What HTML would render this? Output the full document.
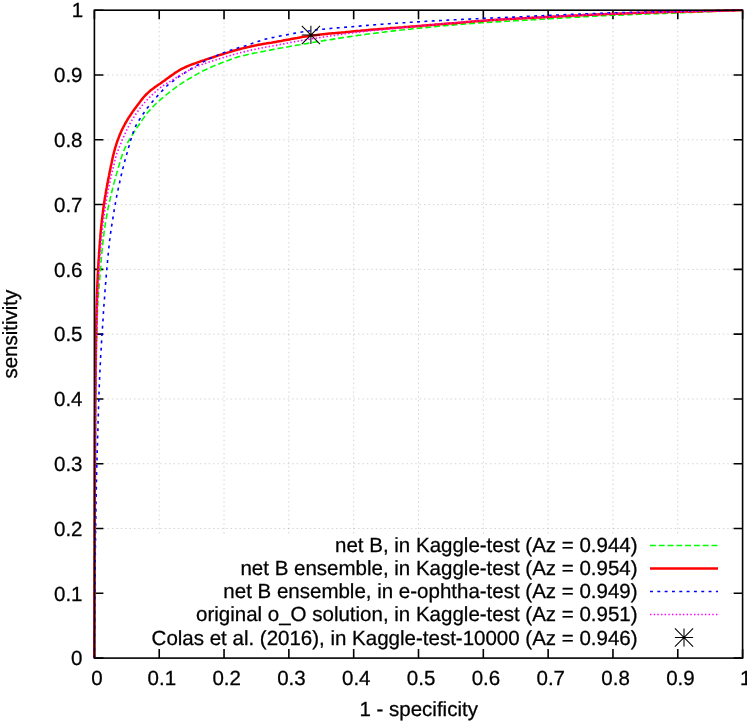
<!DOCTYPE html>
<html><head><meta charset="utf-8"><title>ROC</title>
<style>
html,body{margin:0;padding:0;background:#fff}
svg{display:block;will-change:transform}
text{font-family:"Liberation Sans",sans-serif;font-size:20.5px;fill:#000;text-rendering:geometricPrecision;stroke:#000;stroke-width:0.27px}
</style></head><body>
<svg width="747" height="721" viewBox="0 0 747 721">
<rect width="747" height="721" fill="#fff"/>

<g stroke="#000" stroke-opacity="0.22" stroke-width="0.8" stroke-dasharray="1.465 2.930" fill="none">
<path d="M159.22,533.5 V10.2"/>
<path d="M730.6,593.31 H742.6"/>
<path d="M224.04,533.5 V10.2"/>
<path d="M94.4,528.52 H742.6"/>
<path d="M288.86,533.5 V10.2"/>
<path d="M94.4,463.73 H742.6"/>
<path d="M353.68,533.5 V10.2"/>
<path d="M94.4,398.94 H742.6"/>
<path d="M418.50,533.5 V10.2"/>
<path d="M94.4,334.15 H742.6"/>
<path d="M483.32,533.5 V10.2"/>
<path d="M94.4,269.36 H742.6"/>
<path d="M548.14,533.5 V10.2"/>
<path d="M94.4,204.57 H742.6"/>
<path d="M612.96,533.5 V10.2"/>
<path d="M94.4,139.78 H742.6"/>
<path d="M677.78,533.5 V10.2"/>
<path d="M94.4,74.99 H742.6"/>
</g>
<g stroke="#000" stroke-width="1.6" fill="none">
<path d="M94.40,658.1 v-9 M94.40,10.2 v9 M94.4,658.10 h9 M742.6,658.10 h-9"/>
<path d="M159.22,658.1 v-9 M159.22,10.2 v9 M94.4,593.31 h9 M742.6,593.31 h-9"/>
<path d="M224.04,658.1 v-9 M224.04,10.2 v9 M94.4,528.52 h9 M742.6,528.52 h-9"/>
<path d="M288.86,658.1 v-9 M288.86,10.2 v9 M94.4,463.73 h9 M742.6,463.73 h-9"/>
<path d="M353.68,658.1 v-9 M353.68,10.2 v9 M94.4,398.94 h9 M742.6,398.94 h-9"/>
<path d="M418.50,658.1 v-9 M418.50,10.2 v9 M94.4,334.15 h9 M742.6,334.15 h-9"/>
<path d="M483.32,658.1 v-9 M483.32,10.2 v9 M94.4,269.36 h9 M742.6,269.36 h-9"/>
<path d="M548.14,658.1 v-9 M548.14,10.2 v9 M94.4,204.57 h9 M742.6,204.57 h-9"/>
<path d="M612.96,658.1 v-9 M612.96,10.2 v9 M94.4,139.78 h9 M742.6,139.78 h-9"/>
<path d="M677.78,658.1 v-9 M677.78,10.2 v9 M94.4,74.99 h9 M742.6,74.99 h-9"/>
<path d="M742.60,658.1 v-9 M742.60,10.2 v9 M94.4,10.20 h9 M742.6,10.20 h-9"/>
</g>
<path d="M94.4,658.1 L94.4,656.4 L94.4,654.8 L94.4,653.1 L94.4,651.4 L94.4,649.7 L94.4,648.0 L94.4,646.3 L94.4,644.6 L94.4,642.9 L94.4,641.2 L94.4,639.5 L94.5,637.8 L94.5,636.1 L94.5,634.4 L94.5,632.6 L94.5,630.9 L94.5,629.2 L94.5,627.4 L94.5,625.7 L94.5,624.0 L94.5,622.2 L94.5,620.5 L94.5,618.7 L94.5,616.9 L94.5,615.2 L94.5,613.4 L94.5,611.7 L94.5,609.9 L94.6,608.1 L94.6,606.3 L94.6,604.5 L94.6,602.8 L94.6,601.0 L94.6,599.2 L94.6,597.4 L94.6,595.6 L94.6,593.8 L94.6,592.0 L94.6,590.2 L94.6,588.3 L94.6,586.5 L94.6,584.7 L94.7,582.9 L94.7,581.1 L94.7,579.2 L94.7,577.4 L94.7,575.6 L94.7,573.7 L94.7,571.9 L94.7,570.0 L94.7,568.2 L94.7,566.3 L94.7,564.5 L94.7,562.6 L94.8,560.8 L94.8,558.9 L94.8,557.0 L94.8,555.2 L94.8,553.3 L94.8,551.4 L94.8,549.5 L94.8,547.7 L94.8,545.8 L94.8,543.9 L94.8,542.0 L94.9,540.1 L94.9,538.2 L94.9,536.3 L94.9,534.4 L94.9,532.5 L94.9,530.6 L94.9,528.7 L94.9,526.8 L94.9,524.9 L94.9,523.0 L95.0,521.1 L95.0,519.2 L95.0,517.2 L95.0,515.3 L95.0,513.4 L95.0,511.5 L95.0,509.5 L95.0,507.6 L95.0,505.6 L95.0,503.7 L95.1,501.7 L95.1,499.7 L95.1,497.7 L95.1,495.7 L95.1,493.7 L95.1,491.7 L95.1,489.7 L95.1,487.6 L95.1,485.6 L95.1,483.5 L95.2,481.5 L95.2,479.4 L95.2,477.4 L95.2,475.3 L95.2,473.3 L95.2,471.2 L95.2,469.1 L95.2,467.0 L95.3,464.9 L95.3,462.9 L95.3,460.8 L95.3,458.7 L95.3,456.6 L95.3,454.5 L95.3,452.4 L95.4,450.3 L95.4,448.3 L95.4,446.2 L95.4,444.1 L95.4,442.0 L95.4,439.9 L95.4,437.8 L95.5,435.8 L95.5,433.7 L95.5,431.6 L95.5,429.6 L95.5,427.5 L95.5,425.4 L95.6,423.4 L95.6,421.3 L95.6,419.3 L95.6,417.3 L95.6,415.2 L95.6,413.2 L95.7,411.2 L95.7,409.2 L95.7,407.2 L95.7,405.2 L95.7,403.2 L95.8,401.3 L95.8,399.3 L95.8,397.4 L95.8,395.5 L95.8,393.5 L95.9,391.6 L95.9,389.7 L95.9,387.8 L95.9,385.9 L96.0,384.1 L96.0,382.2 L96.0,380.3 L96.0,378.4 L96.1,376.5 L96.1,374.6 L96.1,372.7 L96.1,370.8 L96.2,368.9 L96.2,367.0 L96.2,365.0 L96.3,363.1 L96.3,361.1 L96.3,359.2 L96.4,357.2 L96.4,355.2 L96.4,353.2 L96.5,351.1 L96.5,349.1 L96.6,347.0 L96.6,344.9 L96.6,342.8 L96.7,340.6 L96.7,338.4 L96.8,336.1 L96.9,333.7 L96.9,331.4 L97.0,328.9 L97.1,326.5 L97.1,324.1 L97.2,321.6 L97.3,319.2 L97.4,316.8 L97.4,314.5 L97.5,312.2 L97.6,310.0 L97.7,307.9 L97.8,305.9 L97.9,304.0 L98.0,302.2 L98.1,300.6 L98.2,299.0 L98.3,297.4 L98.4,295.9 L98.5,294.2 L98.6,292.5 L98.8,290.7 L98.9,288.7 L99.1,286.5 L99.3,283.9 L99.6,280.4 L99.9,276.7 L100.2,273.5 L100.4,271.2 L100.5,269.2 L100.7,267.4 L100.8,265.7 L100.9,264.2 L101.0,262.7 L101.1,261.1 L101.2,259.5 L101.4,257.7 L101.5,255.9 L101.7,254.0 L101.9,252.1 L102.1,250.2 L102.3,248.3 L102.5,246.3 L102.7,244.4 L102.9,242.4 L103.1,240.4 L103.3,238.4 L103.6,236.3 L103.8,234.3 L104.1,232.2 L104.4,230.1 L104.7,228.1 L105.0,226.1 L105.3,224.2 L105.5,222.3 L105.8,220.5 L106.2,218.6 L106.5,216.8 L106.8,215.0 L107.1,213.2 L107.5,211.4 L107.8,209.6 L108.2,207.7 L108.6,205.8 L109.0,203.9 L109.4,202.0 L109.9,200.0 L110.3,198.1 L110.8,196.1 L111.2,194.1 L111.7,192.2 L112.2,190.3 L112.6,188.4 L113.1,186.4 L113.6,184.4 L114.2,182.5 L114.7,180.6 L115.2,178.7 L115.7,176.8 L116.2,175.1 L116.7,173.4 L117.1,171.9 L117.5,170.6 L117.8,169.4 L118.2,168.1 L118.6,166.7 L119.1,165.2 L119.6,163.4 L120.3,161.3 L121.2,158.0 L122.5,154.0 L123.3,151.9 L124.0,150.2 L124.7,148.7 L125.5,147.0 L126.3,145.4 L127.1,143.7 L127.9,142.1 L128.8,140.5 L129.8,138.9 L130.8,137.2 L131.9,135.6 L132.9,133.9 L134.0,132.3 L135.1,130.5 L136.3,128.8 L137.4,127.1 L138.5,125.5 L139.5,124.0 L140.4,122.5 L141.4,121.1 L142.4,119.6 L143.5,118.1 L144.6,116.5 L145.7,115.0 L147.0,113.3 L148.6,111.5 L150.2,109.7 L151.6,108.1 L153.0,106.7 L154.4,105.3 L155.7,104.0 L157.0,102.8 L158.3,101.6 L159.6,100.3 L161.0,99.1 L162.6,97.8 L164.2,96.5 L165.8,95.2 L167.3,94.0 L168.7,92.9 L170.0,91.8 L171.3,90.8 L172.6,89.8 L174.2,88.6 L176.1,87.2 L178.3,85.6 L180.4,84.2 L182.0,83.1 L183.5,82.2 L184.8,81.3 L186.2,80.5 L187.6,79.6 L189.1,78.7 L190.9,77.7 L192.6,76.6 L194.5,75.6 L196.2,74.6 L198.0,73.6 L199.7,72.6 L201.5,71.7 L203.2,70.8 L204.9,70.0 L206.6,69.2 L208.4,68.4 L210.1,67.6 L211.9,66.8 L213.7,66.1 L215.6,65.3 L217.6,64.5 L219.5,63.8 L221.3,63.0 L223.1,62.3 L224.8,61.7 L226.5,61.0 L228.2,60.4 L230.0,59.7 L231.9,59.0 L233.8,58.4 L235.7,57.7 L237.5,57.1 L239.4,56.6 L241.3,56.1 L243.2,55.6 L245.1,55.2 L247.0,54.7 L249.0,54.3 L251.0,53.8 L252.9,53.4 L254.8,53.0 L256.5,52.7 L258.2,52.3 L259.9,52.0 L261.9,51.6 L264.2,51.2 L267.0,50.6 L269.9,50.1 L272.4,49.6 L274.4,49.2 L276.2,48.9 L277.8,48.6 L279.4,48.3 L280.9,48.0 L282.3,47.8 L283.8,47.5 L285.3,47.3 L286.9,47.0 L288.6,46.7 L290.4,46.3 L292.1,46.0 L294.0,45.7 L295.8,45.4 L297.8,45.0 L299.8,44.7 L301.8,44.3 L303.9,44.0 L306.3,43.6 L308.8,43.1 L311.5,42.7 L314.2,42.2 L316.7,41.8 L319.1,41.4 L321.2,41.1 L323.2,40.7 L325.0,40.4 L326.8,40.2 L328.5,39.9 L330.2,39.6 L331.8,39.4 L333.3,39.1 L334.9,38.9 L336.4,38.6 L338.0,38.4 L339.6,38.1 L341.2,37.9 L342.8,37.6 L344.5,37.4 L346.3,37.1 L348.0,36.9 L349.8,36.6 L351.5,36.4 L353.3,36.1 L355.1,35.8 L356.8,35.6 L358.7,35.3 L360.5,35.1 L362.4,34.8 L364.3,34.6 L366.3,34.3 L368.3,34.0 L370.4,33.7 L372.6,33.5 L374.9,33.2 L377.3,32.9 L379.6,32.6 L381.9,32.3 L384.1,32.1 L386.1,31.8 L388.1,31.6 L390.0,31.3 L391.9,31.1 L393.8,30.9 L395.6,30.7 L397.5,30.5 L399.4,30.2 L401.4,30.0 L403.5,29.8 L405.7,29.5 L407.9,29.3 L410.2,29.1 L412.5,28.8 L414.8,28.6 L417.0,28.4 L419.2,28.2 L421.3,27.9 L423.3,27.8 L425.3,27.6 L427.3,27.4 L429.2,27.2 L431.1,27.0 L433.0,26.8 L434.8,26.7 L436.7,26.5 L438.5,26.3 L440.3,26.2 L442.1,26.0 L443.9,25.8 L445.6,25.7 L447.4,25.5 L449.2,25.4 L450.9,25.2 L452.6,25.1 L454.2,24.9 L455.8,24.8 L457.3,24.7 L458.8,24.5 L460.3,24.4 L461.9,24.3 L463.4,24.2 L464.9,24.0 L466.5,23.9 L468.1,23.8 L469.8,23.6 L471.5,23.5 L473.3,23.4 L475.2,23.2 L477.2,23.1 L479.3,22.9 L481.6,22.8 L484.2,22.6 L487.1,22.4 L490.2,22.2 L493.2,22.1 L496.3,21.9 L499.1,21.7 L501.7,21.6 L504.0,21.4 L506.0,21.3 L507.9,21.2 L509.8,21.1 L511.5,21.0 L513.2,20.9 L514.8,20.8 L516.3,20.7 L517.8,20.6 L519.3,20.6 L520.8,20.5 L522.4,20.4 L523.9,20.3 L525.5,20.2 L527.1,20.1 L528.8,20.0 L530.6,19.9 L532.4,19.8 L534.4,19.7 L536.5,19.6 L538.7,19.4 L540.9,19.3 L543.1,19.2 L545.4,19.0 L547.7,18.9 L550.0,18.8 L552.3,18.6 L554.5,18.5 L556.7,18.4 L558.8,18.2 L560.8,18.1 L562.7,18.0 L564.5,17.9 L566.3,17.8 L568.0,17.7 L569.6,17.6 L571.2,17.5 L572.8,17.4 L574.4,17.3 L575.9,17.2 L577.5,17.2 L579.1,17.1 L580.6,17.0 L582.2,16.9 L583.8,16.8 L585.5,16.7 L587.2,16.6 L589.0,16.5 L590.8,16.4 L592.6,16.3 L594.4,16.2 L596.2,16.1 L598.0,16.0 L599.9,15.9 L601.9,15.8 L604.1,15.7 L606.5,15.6 L609.3,15.4 L612.8,15.3 L617.9,15.1 L623.4,14.9 L627.9,14.7 L630.8,14.6 L633.5,14.5 L636.1,14.4 L638.5,14.3 L640.7,14.3 L642.9,14.2 L644.9,14.1 L646.8,14.0 L648.6,14.0 L650.3,13.9 L652.0,13.9 L653.6,13.8 L655.1,13.7 L656.6,13.7 L658.0,13.6 L659.5,13.6 L660.9,13.5 L662.3,13.5 L663.7,13.4 L665.2,13.4 L666.7,13.3 L668.2,13.3 L669.7,13.2 L671.4,13.1 L673.1,13.1 L674.9,13.0 L676.7,12.9 L678.5,12.9 L680.3,12.8 L682.1,12.7 L683.9,12.7 L685.8,12.6 L687.6,12.5 L689.4,12.4 L691.2,12.4 L693.0,12.3 L694.9,12.2 L696.7,12.1 L698.5,12.1 L700.3,12.0 L702.2,11.9 L704.0,11.8 L705.8,11.8 L707.6,11.7 L709.5,11.6 L711.3,11.5 L713.1,11.5 L715.0,11.4 L716.8,11.3 L718.6,11.2 L720.5,11.2 L722.3,11.1 L724.2,11.0 L726.0,10.9 L727.8,10.8 L729.7,10.8 L731.5,10.7 L733.4,10.6 L735.2,10.5 L737.1,10.4 L738.9,10.4 L740.7,10.3 L742.6,10.2" fill="none" stroke="#00ff00" stroke-width="1.6" stroke-dasharray="5.860 2.930"/>
<path d="M94.4,658.1 L94.4,656.4 L94.4,654.7 L94.4,652.9 L94.4,651.2 L94.4,649.5 L94.4,647.7 L94.4,646.0 L94.4,644.3 L94.4,642.5 L94.4,640.8 L94.4,639.0 L94.4,637.3 L94.4,635.5 L94.4,633.7 L94.4,632.0 L94.5,630.2 L94.5,628.4 L94.5,626.7 L94.5,624.9 L94.5,623.1 L94.5,621.3 L94.5,619.5 L94.5,617.8 L94.5,616.0 L94.5,614.2 L94.5,612.4 L94.5,610.6 L94.5,608.8 L94.5,607.0 L94.5,605.2 L94.5,603.3 L94.5,601.5 L94.5,599.7 L94.5,597.9 L94.5,596.1 L94.5,594.2 L94.5,592.4 L94.5,590.6 L94.6,588.8 L94.6,586.9 L94.6,585.1 L94.6,583.2 L94.6,581.4 L94.6,579.6 L94.6,577.7 L94.6,575.8 L94.6,574.0 L94.6,572.1 L94.6,570.3 L94.6,568.4 L94.6,566.6 L94.6,564.7 L94.6,562.8 L94.6,560.9 L94.6,559.1 L94.6,557.2 L94.6,555.3 L94.7,553.4 L94.7,551.5 L94.7,549.7 L94.7,547.8 L94.7,545.9 L94.7,544.0 L94.7,542.1 L94.7,540.2 L94.7,538.3 L94.7,536.4 L94.7,534.5 L94.7,532.6 L94.7,530.7 L94.7,528.8 L94.7,526.9 L94.7,524.9 L94.7,523.0 L94.8,521.1 L94.8,519.2 L94.8,517.3 L94.8,515.3 L94.8,513.4 L94.8,511.5 L94.8,509.5 L94.8,507.6 L94.8,505.7 L94.8,503.7 L94.8,501.8 L94.8,499.8 L94.8,497.9 L94.8,495.9 L94.8,494.0 L94.8,492.0 L94.8,490.0 L94.9,488.0 L94.9,486.1 L94.9,484.1 L94.9,482.1 L94.9,480.1 L94.9,478.1 L94.9,476.1 L94.9,474.1 L94.9,472.1 L94.9,470.1 L94.9,468.1 L94.9,466.1 L94.9,464.1 L94.9,462.1 L94.9,460.0 L95.0,458.0 L95.0,456.0 L95.0,453.9 L95.0,451.9 L95.0,449.9 L95.0,447.8 L95.0,445.8 L95.0,443.7 L95.0,441.7 L95.0,439.6 L95.0,437.5 L95.0,435.5 L95.1,433.4 L95.1,431.3 L95.1,429.3 L95.1,427.2 L95.1,425.1 L95.1,423.0 L95.1,420.9 L95.1,418.8 L95.1,416.7 L95.2,414.6 L95.2,412.5 L95.2,410.4 L95.2,408.3 L95.2,406.2 L95.2,404.0 L95.2,401.9 L95.2,399.7 L95.3,397.6 L95.3,395.4 L95.3,393.2 L95.3,391.0 L95.3,388.8 L95.4,386.6 L95.4,384.4 L95.4,382.2 L95.4,380.0 L95.4,377.8 L95.5,375.6 L95.5,373.3 L95.5,371.1 L95.5,368.9 L95.6,366.7 L95.6,364.5 L95.6,362.3 L95.7,360.1 L95.7,357.9 L95.7,355.7 L95.7,353.6 L95.8,351.4 L95.8,349.2 L95.8,347.1 L95.9,344.9 L95.9,342.7 L95.9,340.6 L96.0,338.4 L96.0,336.2 L96.0,334.1 L96.1,331.9 L96.1,329.8 L96.2,327.6 L96.2,325.5 L96.3,323.4 L96.3,321.3 L96.3,319.2 L96.4,317.2 L96.4,315.1 L96.5,313.1 L96.5,311.1 L96.6,309.2 L96.6,307.3 L96.7,305.4 L96.7,303.6 L96.8,301.7 L96.9,299.8 L96.9,298.0 L97.0,296.1 L97.0,294.2 L97.1,292.3 L97.2,290.3 L97.2,288.3 L97.3,286.2 L97.4,284.0 L97.5,281.8 L97.6,279.5 L97.7,277.1 L97.8,274.8 L98.0,272.5 L98.1,270.2 L98.2,268.1 L98.3,266.0 L98.4,264.0 L98.5,262.1 L98.6,260.3 L98.8,258.5 L98.9,256.7 L99.0,255.0 L99.1,253.2 L99.2,251.4 L99.4,249.6 L99.5,247.7 L99.6,245.8 L99.8,243.7 L99.9,241.7 L100.1,239.6 L100.3,237.4 L100.4,235.3 L100.6,233.2 L100.8,231.1 L101.0,229.1 L101.2,227.1 L101.4,225.1 L101.6,223.2 L101.8,221.2 L102.0,219.2 L102.3,217.3 L102.5,215.3 L102.8,213.2 L103.0,211.2 L103.3,209.1 L103.6,207.0 L103.9,204.9 L104.2,202.8 L104.5,200.7 L104.8,198.7 L105.1,196.8 L105.5,194.8 L105.8,192.9 L106.1,191.0 L106.4,189.1 L106.8,187.3 L107.1,185.4 L107.5,183.6 L107.8,181.8 L108.1,180.1 L108.5,178.4 L108.8,176.8 L109.1,175.3 L109.3,173.9 L109.6,172.4 L110.0,170.9 L110.3,169.3 L110.6,167.6 L111.0,165.6 L111.5,163.5 L112.1,160.6 L112.8,157.1 L113.6,154.0 L114.1,151.9 L114.6,150.2 L115.0,148.6 L115.4,147.2 L115.9,145.7 L116.4,144.0 L117.0,142.1 L117.7,140.2 L118.5,138.2 L119.2,136.2 L120.0,134.3 L120.8,132.5 L121.6,130.6 L122.5,128.8 L123.4,127.0 L124.3,125.3 L125.2,123.5 L126.2,121.8 L127.2,120.1 L128.2,118.4 L129.3,116.8 L130.4,115.1 L131.5,113.5 L132.6,111.9 L133.7,110.3 L134.8,108.8 L136.0,107.2 L137.2,105.6 L138.4,104.0 L139.6,102.4 L140.8,100.7 L142.1,99.1 L143.4,97.5 L144.7,96.0 L146.2,94.5 L147.6,93.1 L149.0,91.8 L150.4,90.5 L151.8,89.4 L153.2,88.4 L154.5,87.4 L155.9,86.5 L157.3,85.5 L158.8,84.5 L160.3,83.5 L161.8,82.4 L163.4,81.3 L165.2,80.1 L167.2,78.6 L169.4,76.9 L171.3,75.6 L172.9,74.5 L174.2,73.5 L175.5,72.6 L177.0,71.7 L178.7,70.7 L180.4,69.7 L182.2,68.7 L184.0,67.8 L185.8,67.0 L187.6,66.2 L189.5,65.4 L191.3,64.7 L193.2,64.0 L195.1,63.3 L197.0,62.6 L198.8,62.0 L200.7,61.3 L202.5,60.7 L204.4,60.1 L206.3,59.4 L208.3,58.8 L210.3,58.1 L212.3,57.5 L214.4,56.8 L216.5,56.1 L218.6,55.4 L220.6,54.8 L222.5,54.2 L224.2,53.6 L226.0,53.1 L227.6,52.6 L229.3,52.1 L231.0,51.5 L232.7,51.0 L234.5,50.5 L236.4,50.0 L238.3,49.5 L240.3,49.0 L242.3,48.4 L244.2,48.0 L246.1,47.5 L248.0,47.1 L249.8,46.7 L251.5,46.3 L253.1,45.9 L254.8,45.6 L256.5,45.2 L258.4,44.8 L260.5,44.4 L262.9,44.0 L265.8,43.6 L268.7,43.1 L271.4,42.7 L273.6,42.3 L275.6,41.9 L277.5,41.6 L279.3,41.3 L281.1,41.0 L282.8,40.6 L284.4,40.3 L286.1,40.0 L287.7,39.7 L289.4,39.4 L291.1,39.1 L292.7,38.8 L294.2,38.5 L295.6,38.2 L297.1,38.0 L298.6,37.7 L300.1,37.4 L301.8,37.1 L303.5,36.8 L305.5,36.5 L307.6,36.2 L310.1,35.8 L313.4,35.4 L317.1,34.9 L320.5,34.5 L323.3,34.2 L325.4,34.0 L327.4,33.8 L329.2,33.6 L330.9,33.5 L332.5,33.3 L333.9,33.2 L335.4,33.1 L336.8,32.9 L338.2,32.8 L339.7,32.7 L341.2,32.6 L342.9,32.4 L344.6,32.3 L346.5,32.1 L348.3,31.9 L350.3,31.7 L352.2,31.5 L354.2,31.3 L356.2,31.1 L358.2,30.9 L360.2,30.8 L362.3,30.6 L364.4,30.4 L366.6,30.2 L368.8,30.0 L371.1,29.8 L373.5,29.6 L375.8,29.4 L378.0,29.2 L380.1,29.0 L382.2,28.9 L384.1,28.7 L386.0,28.6 L387.8,28.4 L389.5,28.3 L391.3,28.1 L393.1,28.0 L394.9,27.9 L396.7,27.7 L398.6,27.6 L400.6,27.4 L402.7,27.3 L404.9,27.1 L407.2,26.9 L409.5,26.7 L411.8,26.5 L414.1,26.4 L416.2,26.2 L418.3,26.0 L420.2,25.9 L421.9,25.7 L423.5,25.6 L424.9,25.5 L426.1,25.4 L427.4,25.3 L428.6,25.2 L429.8,25.1 L431.1,25.0 L432.6,24.9 L434.1,24.8 L435.9,24.6 L437.9,24.5 L440.2,24.3 L443.3,24.0 L448.2,23.6 L453.4,23.2 L457.0,22.9 L459.4,22.7 L461.4,22.5 L463.1,22.4 L464.7,22.2 L466.1,22.1 L467.3,22.0 L468.5,21.9 L469.6,21.8 L470.7,21.7 L471.8,21.6 L472.9,21.5 L474.2,21.4 L475.5,21.3 L477.1,21.2 L478.8,21.1 L480.8,20.9 L483.3,20.7 L486.4,20.5 L489.7,20.3 L493.2,20.1 L496.8,19.8 L500.1,19.6 L503.2,19.4 L505.7,19.2 L507.8,19.1 L509.6,19.0 L511.3,18.9 L512.8,18.8 L514.2,18.8 L515.6,18.7 L516.8,18.6 L517.9,18.5 L519.0,18.5 L520.0,18.4 L521.1,18.4 L522.1,18.3 L523.1,18.3 L524.1,18.2 L525.2,18.2 L526.3,18.1 L527.5,18.0 L528.8,18.0 L530.2,17.9 L531.8,17.8 L533.4,17.7 L535.2,17.6 L537.2,17.5 L539.4,17.4 L542.0,17.3 L546.0,17.0 L551.1,16.8 L556.7,16.5 L562.0,16.2 L566.3,16.0 L569.0,15.8 L571.1,15.7 L573.0,15.6 L574.7,15.6 L576.2,15.5 L577.5,15.4 L578.7,15.4 L579.7,15.3 L580.7,15.3 L581.6,15.2 L582.4,15.2 L583.1,15.1 L583.9,15.1 L584.6,15.1 L585.4,15.0 L586.2,15.0 L587.0,15.0 L587.9,14.9 L588.9,14.9 L590.1,14.8 L591.3,14.8 L592.7,14.7 L594.3,14.6 L596.1,14.5 L598.1,14.4 L600.4,14.3 L602.9,14.2 L607.2,14.0 L615.4,13.7 L624.2,13.4 L630.1,13.2 L633.2,13.1 L636.1,13.0 L638.8,12.9 L641.3,12.8 L643.7,12.7 L645.9,12.7 L647.9,12.6 L649.9,12.6 L651.6,12.5 L653.3,12.5 L654.9,12.4 L656.3,12.4 L657.7,12.3 L659.1,12.3 L660.3,12.3 L661.6,12.2 L662.8,12.2 L663.9,12.2 L665.1,12.1 L666.3,12.1 L667.4,12.1 L668.7,12.0 L669.9,12.0 L671.2,12.0 L672.5,11.9 L674.0,11.9 L675.5,11.9 L677.1,11.8 L678.8,11.8 L680.6,11.7 L682.4,11.7 L684.2,11.6 L686.1,11.6 L687.9,11.5 L689.7,11.5 L691.6,11.4 L693.4,11.4 L695.3,11.4 L697.2,11.3 L699.1,11.3 L701.0,11.2 L702.9,11.2 L704.8,11.1 L706.7,11.1 L708.6,11.0 L710.6,11.0 L712.5,10.9 L714.4,10.9 L716.4,10.8 L718.4,10.8 L720.3,10.7 L722.3,10.7 L724.3,10.6 L726.3,10.6 L728.3,10.5 L730.3,10.5 L732.4,10.4 L734.4,10.4 L736.4,10.3 L738.5,10.3 L740.5,10.2 L742.6,10.2" fill="none" stroke="#ff0000" stroke-width="2.5" stroke-linejoin="round"/>
<path d="M94.4,658.1 L94.4,655.9 L94.4,653.7 L94.4,651.4 L94.5,649.2 L94.5,647.1 L94.5,644.9 L94.5,642.7 L94.5,640.5 L94.5,638.4 L94.6,636.3 L94.6,634.1 L94.6,632.0 L94.6,629.9 L94.6,627.8 L94.6,625.8 L94.7,623.7 L94.7,621.6 L94.7,619.6 L94.7,617.6 L94.7,615.6 L94.7,613.6 L94.8,611.6 L94.8,609.6 L94.8,607.7 L94.8,605.7 L94.8,603.8 L94.8,601.9 L94.9,600.0 L94.9,598.1 L94.9,596.3 L94.9,594.5 L94.9,592.7 L94.9,590.9 L95.0,589.2 L95.0,587.5 L95.0,585.8 L95.0,584.1 L95.0,582.5 L95.0,580.9 L95.0,579.2 L95.1,577.7 L95.1,576.1 L95.1,574.5 L95.1,572.9 L95.1,571.4 L95.1,569.8 L95.2,568.3 L95.2,566.7 L95.2,565.2 L95.2,563.6 L95.2,562.0 L95.2,560.5 L95.3,558.9 L95.3,557.3 L95.3,555.6 L95.3,554.0 L95.3,552.3 L95.4,550.7 L95.4,549.0 L95.4,547.2 L95.4,545.5 L95.4,543.7 L95.5,541.9 L95.5,540.0 L95.5,538.1 L95.5,536.2 L95.6,534.2 L95.6,532.2 L95.6,530.0 L95.6,527.8 L95.7,525.6 L95.7,523.3 L95.7,520.9 L95.8,518.5 L95.8,516.1 L95.9,513.6 L95.9,511.2 L95.9,508.7 L96.0,506.3 L96.0,503.9 L96.1,501.5 L96.1,499.2 L96.1,496.9 L96.2,494.6 L96.2,492.4 L96.3,490.3 L96.3,488.2 L96.3,486.1 L96.4,484.0 L96.4,482.0 L96.5,479.9 L96.5,477.9 L96.6,475.9 L96.6,473.9 L96.7,471.9 L96.7,469.9 L96.8,467.9 L96.8,465.8 L96.9,463.8 L96.9,461.8 L97.0,459.7 L97.0,457.7 L97.1,455.6 L97.1,453.5 L97.2,451.5 L97.3,449.4 L97.3,447.3 L97.4,445.3 L97.5,443.3 L97.5,441.2 L97.6,439.3 L97.6,437.3 L97.7,435.3 L97.8,433.4 L97.8,431.6 L97.9,429.8 L97.9,428.0 L98.0,426.2 L98.0,424.5 L98.1,422.9 L98.1,421.2 L98.2,419.5 L98.2,417.9 L98.3,416.2 L98.3,414.5 L98.4,412.8 L98.4,411.1 L98.5,409.4 L98.5,407.6 L98.6,405.7 L98.6,403.8 L98.7,401.9 L98.8,399.8 L98.8,397.7 L98.9,395.6 L99.0,393.3 L99.1,391.1 L99.2,388.8 L99.3,386.6 L99.3,384.4 L99.4,382.2 L99.5,380.1 L99.6,378.0 L99.7,376.0 L99.8,373.9 L99.9,371.9 L100.0,369.9 L100.1,367.9 L100.2,365.9 L100.3,363.8 L100.4,361.8 L100.5,359.8 L100.6,357.7 L100.7,355.7 L100.8,353.6 L101.0,351.6 L101.1,349.5 L101.2,347.5 L101.3,345.5 L101.4,343.4 L101.6,341.4 L101.7,339.4 L101.8,337.4 L101.9,335.4 L102.1,333.4 L102.2,331.4 L102.3,329.4 L102.5,327.5 L102.6,325.6 L102.7,323.7 L102.8,321.9 L103.0,320.1 L103.1,318.3 L103.2,316.6 L103.3,314.8 L103.4,313.1 L103.5,311.3 L103.7,309.6 L103.8,307.8 L103.9,306.0 L104.0,304.2 L104.2,302.3 L104.3,300.4 L104.5,298.5 L104.6,296.6 L104.7,294.6 L104.9,292.7 L105.0,290.7 L105.2,288.7 L105.3,286.7 L105.5,284.6 L105.7,282.6 L105.8,280.5 L106.0,278.3 L106.2,276.1 L106.4,274.0 L106.6,271.8 L106.8,269.7 L107.0,267.7 L107.1,265.7 L107.3,263.8 L107.5,261.9 L107.6,260.0 L107.8,258.1 L108.0,256.2 L108.2,254.3 L108.3,252.3 L108.5,250.3 L108.8,248.3 L109.0,246.3 L109.2,244.4 L109.4,242.4 L109.6,240.5 L109.9,238.7 L110.1,237.0 L110.3,235.4 L110.5,233.7 L110.8,232.0 L111.0,230.3 L111.3,228.3 L111.6,226.2 L112.1,223.6 L112.5,220.8 L112.9,218.3 L113.3,216.2 L113.6,214.3 L113.9,212.5 L114.1,210.7 L114.4,209.0 L114.7,207.2 L115.0,205.4 L115.3,203.6 L115.7,201.8 L116.0,199.9 L116.3,198.1 L116.7,196.2 L117.1,194.3 L117.5,192.4 L117.9,190.4 L118.3,188.3 L118.8,186.3 L119.2,184.3 L119.7,182.3 L120.1,180.3 L120.6,178.3 L121.0,176.3 L121.5,174.3 L121.9,172.4 L122.4,170.5 L122.8,168.7 L123.3,166.9 L123.7,165.3 L124.1,163.8 L124.5,162.3 L124.9,160.7 L125.3,159.2 L125.8,157.5 L126.3,155.7 L126.9,153.6 L127.5,151.2 L128.2,148.8 L128.9,146.5 L129.5,144.5 L130.0,142.6 L130.5,140.8 L131.1,138.9 L131.7,137.0 L132.2,135.1 L132.9,133.3 L133.5,131.4 L134.2,129.6 L135.0,127.8 L135.7,126.1 L136.6,124.3 L137.6,122.6 L138.6,120.9 L139.7,119.2 L140.7,117.6 L141.8,115.9 L142.9,114.3 L144.0,112.7 L145.1,111.1 L146.2,109.5 L147.3,107.9 L148.5,106.4 L149.8,104.8 L151.1,103.3 L152.4,101.8 L153.7,100.3 L154.9,98.9 L156.2,97.4 L157.5,95.9 L158.8,94.5 L160.2,93.0 L161.5,91.5 L162.8,90.1 L164.1,88.7 L165.4,87.4 L166.8,86.0 L168.3,84.7 L169.9,83.5 L171.5,82.2 L173.1,81.0 L174.6,79.8 L176.2,78.6 L177.7,77.5 L179.3,76.4 L180.9,75.3 L182.6,74.2 L184.3,73.2 L185.9,72.1 L187.6,71.1 L189.2,70.1 L190.9,69.0 L192.5,68.0 L194.2,67.0 L196.0,65.9 L197.7,65.0 L199.4,64.0 L201.1,63.1 L202.8,62.1 L204.5,61.2 L206.3,60.3 L208.0,59.4 L209.8,58.6 L211.5,57.7 L213.3,57.0 L215.0,56.2 L216.8,55.5 L218.7,54.7 L220.6,54.0 L222.5,53.2 L224.4,52.5 L226.2,51.8 L228.0,51.1 L229.8,50.5 L231.6,49.9 L233.4,49.3 L235.3,48.7 L237.2,48.2 L239.0,47.6 L240.9,47.0 L242.8,46.5 L244.7,46.0 L246.5,45.4 L248.4,44.8 L250.2,44.1 L252.1,43.5 L254.0,42.9 L255.9,42.3 L257.8,41.6 L259.6,41.0 L261.4,40.4 L263.1,39.8 L265.0,39.2 L267.1,38.7 L269.5,38.1 L272.0,37.6 L274.3,37.2 L276.2,36.8 L278.0,36.4 L279.7,36.1 L281.4,35.8 L283.0,35.5 L284.7,35.2 L286.4,34.9 L288.2,34.5 L290.1,34.2 L292.0,33.8 L294.0,33.4 L296.0,33.0 L298.0,32.7 L299.9,32.3 L301.8,32.0 L303.5,31.8 L305.1,31.5 L306.7,31.3 L308.2,31.0 L309.9,30.8 L311.7,30.5 L313.7,30.3 L316.0,30.0 L319.3,29.6 L322.9,29.2 L326.0,28.9 L328.2,28.7 L330.3,28.5 L332.2,28.3 L333.9,28.2 L335.5,28.0 L337.1,27.9 L338.6,27.8 L340.1,27.7 L341.6,27.5 L343.2,27.4 L344.9,27.3 L346.7,27.1 L348.4,27.0 L350.2,26.8 L352.0,26.7 L353.9,26.5 L355.7,26.4 L357.5,26.2 L359.4,26.1 L361.3,25.9 L363.2,25.7 L365.1,25.6 L367.1,25.4 L369.2,25.3 L371.3,25.1 L373.4,24.9 L375.6,24.7 L377.7,24.6 L379.9,24.4 L382.0,24.2 L384.0,24.1 L386.0,23.9 L387.9,23.8 L389.7,23.7 L391.4,23.5 L393.2,23.4 L394.9,23.3 L396.7,23.2 L398.5,23.0 L400.4,22.9 L402.4,22.8 L404.6,22.7 L407.0,22.5 L409.5,22.3 L412.1,22.2 L414.8,22.0 L417.4,21.9 L419.8,21.7 L422.0,21.6 L424.1,21.5 L426.1,21.3 L428.1,21.2 L430.1,21.1 L431.9,21.0 L433.8,20.9 L435.6,20.8 L437.4,20.7 L439.2,20.6 L440.9,20.5 L442.6,20.4 L444.4,20.3 L446.1,20.2 L447.9,20.1 L449.6,20.0 L451.3,19.9 L453.0,19.8 L454.7,19.8 L456.3,19.7 L457.9,19.6 L459.4,19.5 L461.0,19.5 L462.6,19.4 L464.2,19.3 L465.7,19.2 L467.4,19.2 L469.0,19.1 L470.7,19.0 L472.4,18.9 L474.1,18.9 L475.9,18.8 L477.8,18.7 L479.7,18.6 L481.7,18.5 L483.6,18.4 L485.6,18.3 L487.7,18.2 L489.9,18.1 L492.4,18.0 L495.0,17.9 L497.9,17.7 L502.0,17.6 L506.6,17.4 L510.6,17.2 L513.2,17.1 L515.3,17.0 L517.2,16.9 L518.9,16.8 L520.5,16.7 L521.9,16.7 L523.2,16.6 L524.4,16.5 L525.5,16.5 L526.6,16.4 L527.7,16.4 L528.7,16.3 L529.8,16.3 L531.0,16.2 L532.2,16.1 L533.5,16.1 L534.9,16.0 L536.5,15.9 L538.3,15.9 L540.1,15.8 L542.0,15.7 L544.1,15.6 L546.3,15.5 L548.6,15.4 L551.2,15.3 L554.0,15.1 L557.3,15.0 L562.0,14.8 L567.1,14.6 L571.2,14.4 L573.6,14.3 L575.7,14.2 L577.6,14.2 L579.3,14.1 L580.8,14.0 L582.1,14.0 L583.4,13.9 L584.5,13.9 L585.6,13.8 L586.5,13.8 L587.5,13.8 L588.4,13.7 L589.3,13.7 L590.3,13.6 L591.3,13.6 L592.4,13.6 L593.5,13.5 L594.8,13.5 L596.2,13.4 L597.7,13.4 L599.5,13.3 L601.4,13.2 L603.6,13.1 L606.7,13.0 L610.4,12.9 L614.6,12.8 L618.9,12.7 L623.1,12.6 L626.9,12.5 L630.1,12.4 L632.7,12.3 L635.1,12.3 L637.4,12.2 L639.6,12.2 L641.8,12.1 L643.8,12.1 L645.8,12.0 L647.7,12.0 L649.5,11.9 L651.3,11.9 L653.0,11.9 L654.6,11.8 L656.3,11.8 L657.9,11.8 L659.4,11.7 L661.0,11.7 L662.5,11.7 L664.1,11.6 L665.6,11.6 L667.2,11.6 L668.8,11.6 L670.4,11.5 L672.0,11.5 L673.7,11.5 L675.4,11.4 L677.2,11.4 L679.0,11.4 L680.8,11.3 L682.7,11.3 L684.5,11.3 L686.4,11.2 L688.2,11.2 L690.1,11.2 L691.9,11.1 L693.8,11.1 L695.6,11.0 L697.5,11.0 L699.3,11.0 L701.2,10.9 L703.0,10.9 L704.9,10.9 L706.8,10.8 L708.6,10.8 L710.5,10.8 L712.4,10.7 L714.2,10.7 L716.1,10.7 L718.0,10.6 L719.9,10.6 L721.8,10.6 L723.6,10.5 L725.5,10.5 L727.4,10.5 L729.3,10.4 L731.2,10.4 L733.1,10.4 L735.0,10.3 L736.9,10.3 L738.8,10.3 L740.7,10.2 L742.6,10.2" fill="none" stroke="#0000ff" stroke-width="1.6" stroke-dasharray="2.930 4.395"/>
<path d="M94.4,658.1 L94.4,656.4 L94.4,654.7 L94.4,653.0 L94.4,651.2 L94.4,649.5 L94.4,647.8 L94.4,646.1 L94.4,644.3 L94.4,642.6 L94.5,640.9 L94.5,639.1 L94.5,637.4 L94.5,635.6 L94.5,633.9 L94.5,632.1 L94.5,630.3 L94.5,628.6 L94.5,626.8 L94.5,625.1 L94.5,623.3 L94.5,621.5 L94.5,619.7 L94.5,618.0 L94.5,616.2 L94.5,614.4 L94.6,612.6 L94.6,610.8 L94.6,609.0 L94.6,607.2 L94.6,605.4 L94.6,603.6 L94.6,601.8 L94.6,600.0 L94.6,598.2 L94.6,596.4 L94.6,594.6 L94.6,592.7 L94.6,590.9 L94.6,589.1 L94.6,587.3 L94.7,585.4 L94.7,583.6 L94.7,581.8 L94.7,579.9 L94.7,578.1 L94.7,576.3 L94.7,574.4 L94.7,572.6 L94.7,570.7 L94.7,568.9 L94.7,567.0 L94.7,565.1 L94.7,563.3 L94.8,561.4 L94.8,559.6 L94.8,557.7 L94.8,555.8 L94.8,554.0 L94.8,552.1 L94.8,550.2 L94.8,548.3 L94.8,546.4 L94.8,544.6 L94.8,542.7 L94.8,540.8 L94.9,538.9 L94.9,537.0 L94.9,535.1 L94.9,533.2 L94.9,531.3 L94.9,529.4 L94.9,527.5 L94.9,525.6 L94.9,523.7 L94.9,521.8 L94.9,519.9 L95.0,518.0 L95.0,516.0 L95.0,514.1 L95.0,512.2 L95.0,510.3 L95.0,508.4 L95.0,506.4 L95.0,504.5 L95.0,502.6 L95.0,500.6 L95.0,498.7 L95.0,496.7 L95.1,494.8 L95.1,492.8 L95.1,490.9 L95.1,488.9 L95.1,486.9 L95.1,485.0 L95.1,483.0 L95.1,481.0 L95.1,479.0 L95.1,477.1 L95.1,475.1 L95.2,473.1 L95.2,471.1 L95.2,469.1 L95.2,467.1 L95.2,465.1 L95.2,463.1 L95.2,461.1 L95.2,459.0 L95.2,457.0 L95.3,455.0 L95.3,453.0 L95.3,450.9 L95.3,448.9 L95.3,446.9 L95.3,444.8 L95.3,442.8 L95.3,440.7 L95.3,438.7 L95.4,436.6 L95.4,434.6 L95.4,432.5 L95.4,430.4 L95.4,428.4 L95.4,426.3 L95.4,424.2 L95.4,422.2 L95.5,420.1 L95.5,418.0 L95.5,415.9 L95.5,413.8 L95.5,411.7 L95.5,409.6 L95.6,407.5 L95.6,405.4 L95.6,403.3 L95.6,401.1 L95.6,399.0 L95.6,396.8 L95.7,394.6 L95.7,392.5 L95.7,390.3 L95.7,388.1 L95.8,385.9 L95.8,383.7 L95.8,381.5 L95.8,379.3 L95.8,377.1 L95.9,374.9 L95.9,372.7 L95.9,370.5 L96.0,368.3 L96.0,366.1 L96.0,363.9 L96.0,361.7 L96.1,359.5 L96.1,357.3 L96.1,355.2 L96.2,353.0 L96.2,350.9 L96.2,348.7 L96.3,346.5 L96.3,344.4 L96.3,342.2 L96.4,340.0 L96.4,337.8 L96.5,335.7 L96.5,333.5 L96.6,331.3 L96.6,329.2 L96.7,327.0 L96.7,324.9 L96.8,322.8 L96.8,320.8 L96.9,318.7 L96.9,316.7 L97.0,314.8 L97.0,312.9 L97.1,311.1 L97.1,309.3 L97.2,307.7 L97.2,306.1 L97.3,304.5 L97.3,302.9 L97.4,301.3 L97.4,299.7 L97.5,298.0 L97.6,296.1 L97.7,294.2 L97.7,292.1 L97.8,289.9 L97.9,287.4 L98.1,284.3 L98.3,280.6 L98.5,277.0 L98.7,273.7 L98.9,271.2 L99.0,269.0 L99.2,267.0 L99.3,265.2 L99.4,263.5 L99.5,261.9 L99.7,260.4 L99.8,258.9 L99.9,257.4 L100.0,255.9 L100.1,254.4 L100.3,252.8 L100.4,251.1 L100.6,249.3 L100.7,247.5 L100.9,245.7 L101.0,243.9 L101.2,242.1 L101.4,240.2 L101.5,238.3 L101.7,236.4 L101.9,234.5 L102.1,232.5 L102.3,230.5 L102.5,228.5 L102.8,226.4 L103.0,224.2 L103.3,222.0 L103.6,219.8 L103.9,217.5 L104.2,215.3 L104.5,213.2 L104.8,211.1 L105.0,209.1 L105.3,207.2 L105.6,205.3 L105.9,203.5 L106.2,201.7 L106.5,199.9 L106.8,198.1 L107.1,196.2 L107.4,194.3 L107.8,192.4 L108.1,190.4 L108.5,188.4 L109.0,186.4 L109.4,184.4 L109.8,182.4 L110.2,180.4 L110.6,178.5 L111.0,176.7 L111.4,175.0 L111.8,173.4 L112.2,171.9 L112.5,170.4 L112.9,168.9 L113.3,167.2 L113.7,165.5 L114.2,163.7 L114.7,161.5 L115.3,159.0 L116.0,156.3 L116.7,153.9 L117.5,151.6 L118.3,149.6 L119.0,147.8 L119.7,146.2 L120.3,144.6 L121.1,142.9 L121.8,141.1 L122.6,139.2 L123.4,137.4 L124.2,135.6 L125.0,133.8 L125.8,132.1 L126.6,130.3 L127.5,128.6 L128.4,126.7 L129.3,124.9 L130.2,123.2 L131.2,121.5 L132.2,119.8 L133.3,118.1 L134.3,116.5 L135.4,114.8 L136.5,113.1 L137.6,111.6 L138.6,110.2 L139.5,108.9 L140.4,107.6 L141.6,106.0 L143.6,103.7 L145.5,101.6 L146.8,100.2 L147.8,99.1 L148.9,98.0 L150.2,96.7 L151.6,95.3 L153.1,93.9 L154.6,92.5 L156.1,91.2 L157.6,89.9 L159.1,88.7 L160.6,87.5 L162.0,86.5 L163.4,85.6 L164.8,84.6 L166.6,83.5 L169.0,82.1 L171.1,80.8 L172.7,79.8 L174.2,78.9 L175.6,78.0 L177.3,77.0 L178.9,76.0 L180.6,74.9 L182.3,73.9 L184.0,73.0 L185.7,72.0 L187.4,71.1 L189.1,70.2 L190.8,69.3 L192.6,68.5 L194.5,67.6 L196.3,66.8 L198.1,66.1 L200.0,65.3 L201.8,64.6 L203.6,63.9 L205.5,63.2 L207.3,62.6 L209.1,62.0 L210.8,61.5 L212.4,61.0 L214.2,60.5 L216.5,59.7 L219.7,58.7 L222.3,57.9 L224.3,57.3 L226.1,56.8 L227.6,56.3 L229.1,55.8 L230.6,55.4 L232.1,55.0 L233.8,54.5 L235.6,54.0 L237.5,53.5 L239.3,53.0 L241.2,52.5 L243.1,52.0 L245.0,51.6 L246.9,51.1 L248.7,50.7 L250.4,50.3 L252.1,49.9 L253.8,49.6 L255.5,49.2 L257.3,48.8 L259.2,48.4 L261.4,48.0 L264.0,47.5 L266.8,47.0 L269.5,46.5 L271.9,46.1 L273.8,45.7 L275.6,45.4 L277.3,45.1 L278.9,44.8 L280.4,44.5 L281.9,44.2 L283.5,43.9 L285.1,43.6 L286.9,43.2 L288.8,42.8 L290.9,42.4 L293.0,42.0 L295.1,41.6 L297.3,41.2 L299.4,40.9 L301.6,40.5 L303.6,40.1 L305.7,39.8 L307.7,39.4 L309.7,39.1 L311.8,38.8 L313.8,38.5 L315.8,38.2 L317.7,37.9 L319.7,37.6 L321.6,37.3 L323.5,37.0 L325.4,36.7 L327.3,36.4 L329.2,36.1 L331.0,35.9 L332.9,35.6 L334.7,35.4 L336.5,35.1 L338.4,34.8 L340.2,34.6 L342.1,34.3 L343.9,34.1 L345.8,33.8 L347.6,33.6 L349.4,33.3 L351.2,33.1 L353.0,32.9 L354.8,32.6 L356.6,32.4 L358.5,32.2 L360.3,31.9 L362.2,31.7 L364.1,31.5 L366.1,31.3 L368.1,31.0 L370.2,30.8 L372.3,30.6 L374.4,30.4 L376.6,30.2 L378.7,30.0 L380.8,29.8 L382.9,29.6 L384.9,29.4 L386.9,29.2 L388.8,29.0 L390.7,28.8 L392.5,28.6 L394.3,28.5 L396.2,28.3 L398.1,28.1 L400.0,27.9 L402.1,27.7 L404.2,27.5 L406.5,27.2 L408.9,27.0 L411.4,26.7 L413.8,26.4 L416.2,26.2 L418.4,26.0 L420.4,25.8 L422.2,25.6 L423.8,25.4 L425.2,25.3 L426.4,25.2 L427.6,25.1 L428.8,25.0 L430.0,24.9 L431.2,24.8 L432.5,24.6 L433.9,24.5 L435.6,24.4 L437.4,24.2 L439.5,24.0 L442.1,23.8 L446.7,23.4 L452.0,23.0 L456.2,22.6 L458.7,22.4 L460.8,22.3 L462.6,22.1 L464.2,22.0 L465.7,21.9 L466.9,21.8 L468.1,21.7 L469.2,21.6 L470.3,21.5 L471.4,21.4 L472.5,21.3 L473.7,21.2 L475.0,21.1 L476.5,21.0 L478.1,20.9 L480.0,20.8 L482.3,20.6 L485.1,20.4 L488.4,20.2 L491.8,20.0 L495.4,19.8 L498.8,19.5 L502.0,19.3 L504.7,19.2 L506.9,19.0 L508.8,18.9 L510.6,18.8 L512.2,18.7 L513.6,18.7 L515.0,18.6 L516.2,18.5 L517.4,18.4 L518.5,18.4 L519.6,18.3 L520.6,18.3 L521.6,18.2 L522.6,18.2 L523.6,18.1 L524.7,18.1 L525.8,18.0 L526.9,17.9 L528.2,17.9 L529.5,17.8 L531.0,17.7 L532.6,17.6 L534.3,17.6 L536.2,17.5 L538.3,17.3 L540.5,17.2 L543.6,17.1 L548.2,16.8 L553.6,16.5 L559.1,16.2 L564.0,16.0 L567.6,15.8 L569.9,15.7 L571.9,15.6 L573.7,15.5 L575.3,15.4 L576.7,15.4 L578.0,15.3 L579.1,15.2 L580.1,15.2 L581.1,15.1 L581.9,15.1 L582.7,15.1 L583.4,15.0 L584.2,15.0 L584.9,15.0 L585.7,14.9 L586.5,14.9 L587.3,14.9 L588.3,14.8 L589.3,14.8 L590.5,14.7 L591.8,14.7 L593.3,14.6 L594.9,14.5 L596.8,14.4 L598.8,14.3 L601.2,14.2 L603.7,14.1 L609.5,13.9 L618.2,13.5 L626.4,13.2 L631.0,13.1 L634.0,13.0 L636.9,12.9 L639.5,12.8 L642.0,12.7 L644.3,12.7 L646.5,12.6 L648.5,12.5 L650.3,12.5 L652.1,12.4 L653.7,12.4 L655.2,12.4 L656.7,12.3 L658.1,12.3 L659.4,12.2 L660.6,12.2 L661.8,12.2 L663.0,12.1 L664.2,12.1 L665.3,12.1 L666.5,12.1 L667.7,12.0 L668.9,12.0 L670.1,12.0 L671.4,11.9 L672.8,11.9 L674.2,11.9 L675.8,11.8 L677.4,11.8 L679.1,11.7 L680.9,11.7 L682.7,11.6 L684.5,11.6 L686.3,11.6 L688.1,11.5 L690.0,11.5 L691.8,11.4 L693.7,11.4 L695.5,11.3 L697.4,11.3 L699.3,11.2 L701.2,11.2 L703.0,11.1 L704.9,11.1 L706.9,11.0 L708.8,11.0 L710.7,10.9 L712.6,10.9 L714.6,10.9 L716.5,10.8 L718.5,10.8 L720.4,10.7 L722.4,10.7 L724.4,10.6 L726.4,10.6 L728.4,10.5 L730.4,10.5 L732.4,10.4 L734.4,10.4 L736.5,10.3 L738.5,10.3 L740.5,10.2 L742.6,10.2" fill="none" stroke="#ff00ff" stroke-width="1.6" stroke-dasharray="1.465 2.198"/>
<path d="M301.79999999999995,34.95 h18.2 M310.9,25.85 v18.2 M301.79999999999995,25.85 l18.2,18.2 M301.79999999999995,44.050000000000004 l18.2,-18.2" stroke="#000" stroke-width="1.05" fill="none"/>
<rect x="94.4" y="10.2" width="648.20" height="647.90" fill="none" stroke="#000" stroke-width="1.6"/>
<text x="82.5" y="665.30" text-anchor="end">0</text>
<text x="97.00" y="685.35" text-anchor="middle">0</text>
<text x="82.5" y="600.51" text-anchor="end">0.1</text>
<text x="161.82" y="685.35" text-anchor="middle">0.1</text>
<text x="82.5" y="535.72" text-anchor="end">0.2</text>
<text x="226.64" y="685.35" text-anchor="middle">0.2</text>
<text x="82.5" y="470.93" text-anchor="end">0.3</text>
<text x="291.46" y="685.35" text-anchor="middle">0.3</text>
<text x="82.5" y="406.14" text-anchor="end">0.4</text>
<text x="356.28" y="685.35" text-anchor="middle">0.4</text>
<text x="82.5" y="341.35" text-anchor="end">0.5</text>
<text x="421.10" y="685.35" text-anchor="middle">0.5</text>
<text x="82.5" y="276.56" text-anchor="end">0.6</text>
<text x="485.92" y="685.35" text-anchor="middle">0.6</text>
<text x="82.5" y="211.77" text-anchor="end">0.7</text>
<text x="550.74" y="685.35" text-anchor="middle">0.7</text>
<text x="82.5" y="146.98" text-anchor="end">0.8</text>
<text x="615.56" y="685.35" text-anchor="middle">0.8</text>
<text x="82.5" y="82.19" text-anchor="end">0.9</text>
<text x="680.38" y="685.35" text-anchor="middle">0.9</text>
<text x="83.1" y="17.40" text-anchor="end">1</text>
<text x="745.80" y="685.35" text-anchor="middle">1</text>
<text x="418.7" y="715.7" text-anchor="middle">1 - specificity</text>
<text transform="translate(17.1,334.2) rotate(-90)" text-anchor="middle">sensitivity</text>
<text x="637.6" y="552.40" text-anchor="end">net B, in Kaggle-test (Az = 0.944)</text>
<text x="637.6" y="575.40" text-anchor="end">net B ensemble, in Kaggle-test (Az = 0.954)</text>
<text x="637.6" y="598.40" text-anchor="end">net B ensemble, in e-ophtha-test (Az = 0.949)</text>
<text x="637.6" y="621.40" text-anchor="end">original o_O solution, in Kaggle-test (Az = 0.951)</text>
<text x="637.6" y="644.50" text-anchor="end">Colas et al. (2016), in Kaggle-test-10000 (Az = 0.946)</text>
<path d="M650.0,545.5 H718.0" stroke="#00ff00" stroke-width="1.6" stroke-dasharray="5.860 2.930"/>
<path d="M650.0,568.5 H718.0" stroke="#ff0000" stroke-width="2.5"/>
<path d="M650.0,591.55 H718.0" stroke="#0000ff" stroke-width="1.6" stroke-dasharray="2.930 4.395"/>
<path d="M650.0,614.55 H718.0" stroke="#ff00ff" stroke-width="1.6" stroke-dasharray="1.465 2.198"/>
<path d="M674.9,637.5 h18.2 M684.0,628.4 v18.2 M674.9,628.4 l18.2,18.2 M674.9,646.6 l18.2,-18.2" stroke="#000" stroke-width="1.05" fill="none"/>
</svg></body></html>
